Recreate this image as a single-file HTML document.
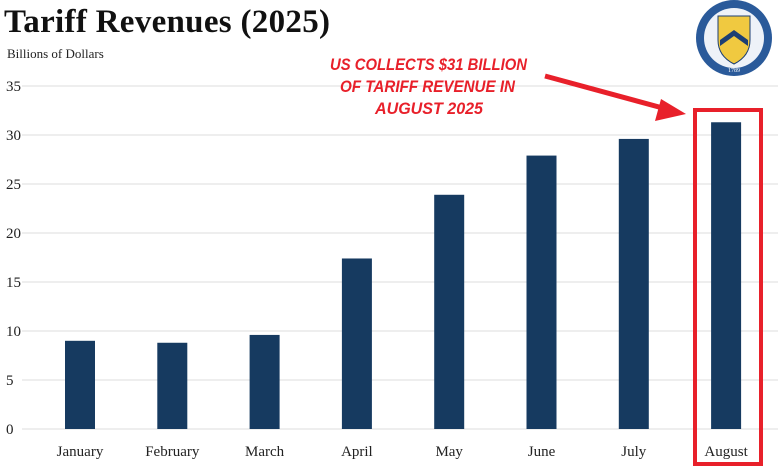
<!DOCTYPE html>
<html><head><meta charset="utf-8"><style>
body{margin:0;background:#fff;}
svg{display:block;font-family:"Liberation Serif",serif;}
</style></head><body>
<svg id="chart" width="778" height="470" viewBox="0 0 778 470">
<text x="4" y="32" font-size="33" font-weight="bold" fill="#111" textLength="326">Tariff Revenues (2025)</text>
<text x="7" y="58" font-size="13" fill="#222">Billions of Dollars</text>
<g id="grid"></g>
<g id="bars"></g>
<g id="xlabels"></g>
<g>
<circle cx="734" cy="38" r="38" fill="#2a5a9a"/>
<circle cx="734" cy="38" r="30" fill="#eef2f8"/>
<path d="M718 16 h32 v24 q0 16 -16 24 q-16 -8 -16 -24z" fill="#f0c940" stroke="#1c3f73"/>
<path d="M720 40 l14 -10 l14 10 v6 l-14 -10 l-14 10z" fill="#1c3f73"/>
<text x="734" y="72" font-size="6" text-anchor="middle" fill="#fff">1789</text>
</g>
<g font-family="Liberation Sans, sans-serif" font-style="italic" font-weight="bold" fill="#e8202a" font-size="17">
<text x="330" y="70" textLength="197" lengthAdjust="spacingAndGlyphs">US COLLECTS $31 BILLION</text>
<text x="340" y="92" textLength="175" lengthAdjust="spacingAndGlyphs">OF TARIFF REVENUE IN</text>
<text x="375" y="114" textLength="108" lengthAdjust="spacingAndGlyphs">AUGUST 2025</text>
</g>
<line x1="545" y1="76" x2="670" y2="110" stroke="#e8202a" stroke-width="5"/>
<polygon points="686,114 661,99 655,121" fill="#e8202a"/>
<rect x="695" y="110" width="66" height="354" fill="none" stroke="#e8202a" stroke-width="4"/>
</svg>
<script>
const categories=["January","February","March","April","May","June","July","August"];
const values=[9.0,8.8,9.6,17.4,23.9,27.9,29.6,31.3];
const ticks=[0,5,10,15,20,25,30,35];
const NS="http://www.w3.org/2000/svg";
const y0=429,pxPer=9.8,x0=80,step=92.3,bw=30;
function yS(v){return y0-v*pxPer;}
function xS(i){return x0+i*step;}
const grid=document.getElementById('grid'),bars=document.getElementById('bars'),xl=document.getElementById('xlabels');
ticks.forEach(t=>{
 const l=document.createElementNS(NS,'line');
 l.setAttribute('x1',22);l.setAttribute('x2',778);l.setAttribute('y1',yS(t));l.setAttribute('y2',yS(t));
 l.setAttribute('stroke','#dcdcdc');l.setAttribute('stroke-width',1);
 
 
 grid.appendChild(l);
 const tx=document.createElementNS(NS,'text');
 tx.setAttribute('x',6);tx.setAttribute('y',yS(t)+5);tx.setAttribute('font-size',15);tx.setAttribute('fill','#222');
 tx.textContent=t;
 
 
 grid.appendChild(tx);
});
values.forEach((v,i)=>{
 const r=document.createElementNS(NS,'rect');
 r.setAttribute('x',xS(i)-bw/2);r.setAttribute('width',bw);r.setAttribute('y',yS(v));r.setAttribute('height',v*pxPer);
 r.setAttribute('fill','#163a60');
 
 
 bars.appendChild(r);
 const t=document.createElementNS(NS,'text');
 t.setAttribute('x',xS(i));t.setAttribute('y',456);t.setAttribute('font-size',15);t.setAttribute('text-anchor','middle');t.setAttribute('fill','#222');
 t.textContent=categories[i];
 
 
 xl.appendChild(t);
});
</script>
</body></html>
